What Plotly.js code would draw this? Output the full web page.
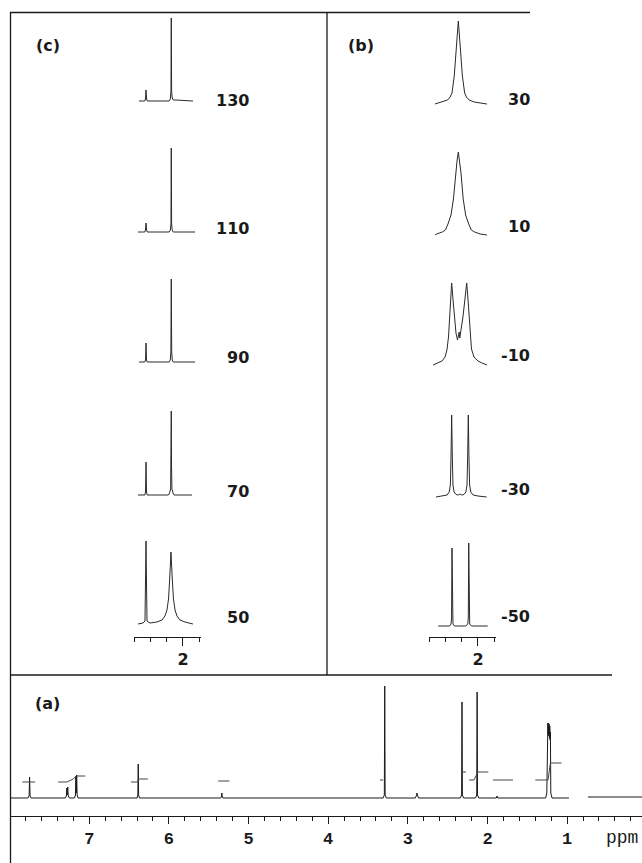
<!DOCTYPE html>
<html>
<head>
<meta charset="utf-8">
<script src="https://cdn.plot.ly/plotly-3.0.1.min.js"></script>
<style>html,body{margin:0;padding:0;background:#fff;}#plot{width:642px;height:863px;}</style>
</head>
<body>
<div id="plot"></div>
<script>
// ---------------- DATA ----------------
// (a) room-temperature 1H spectrum: chemical shift (ppm) and intensity
const a_ppm = [8.0, 7.77, 7.755, 7.749, 7.743, 7.73, 7.30, 7.287, 7.282, 7.276, 7.270, 7.264, 7.25, 7.185, 7.173, 7.168, 7.163, 7.158, 7.152, 7.14, 6.40, 6.39, 6.385, 6.38, 6.37, 5.35, 5.34, 5.335, 5.33, 5.32, 3.31, 3.295, 3.29, 3.285, 3.27, 2.905, 2.89, 2.885, 2.88, 2.865, 2.34, 2.325, 2.32, 2.315, 2.30, 2.15, 2.135, 2.13, 2.125, 2.11, 1.89, 1.88, 1.87, 1.27, 1.255, 1.250, 1.246, 1.242, 1.238, 1.234, 1.230, 1.226, 1.222, 1.218, 1.214, 1.210, 1.205, 1.19, 0.977, null, 0.739, 0.06];
const a_int = [0, 0, 2, 21, 2, 0, 0, 2, 10, 3, 11, 2, 0, 0, 3, 22, 5, 23, 3, 0, 0, 3, 34, 3, 0, 0, 1, 5, 1, 0, 0, 3, 112, 3, 0, 0, 3, 5, 3, 0, 0, 3, 96, 3, 0, 0, 3, 106, 3, 0, 0, 2, 0, 0, 5, 74, 62, 75, 64, 75, 62, 74, 60, 72, 58, 66, 5, 0, 0, null, 1, 1];
// (a) integral trace segments
const aInt_ppm = [7.84, 7.68, null, 7.39, 7.28, 7.20, 7.165, 7.05, null, 6.477, 6.39, 6.385, 6.264, null, 5.38, 5.24, null, 3.35, 3.31, null, 2.33, 2.27, null, 2.23, 2.17, 2.12, 1.99, null, 1.93, 1.68, null, 1.40, 1.24, 1.21, 1.07];
const aInt_val = [16, 16, null, 16, 16, 19, 22, 22, null, 16, 16, 19, 19, null, 17, 17, null, 18, 18, null, 26, 26, null, 18, 18, 26, 26, null, 18, 18, null, 18, 18, 35, 35];

// (c) high-temperature series, temperatures (°C)
const cTemps = ['130', '110', '90', '70', '50'];
const c130_ppm = [2.542, 2.47, 2.462, 2.455, 2.448, 2.44, 2.17, 2.155, 2.148, 2.144, 2.140, 2.133, 2.12, 2.09, 1.877];
const c130_int = [0, 0, 2, 11, 2, 0, 0, 2, 10, 83, 10, 3, 1, 1, 0];
const c110_ppm = [2.554, 2.47, 2.462, 2.455, 2.448, 2.44, 2.17, 2.155, 2.148, 2.144, 2.140, 2.133, 2.12, 1.852];
const c110_int = [0, 0, 2, 9, 2, 0, 0, 2, 8, 84, 8, 2, 0, 0];
const c90_ppm = [2.542, 2.47, 2.461, 2.455, 2.449, 2.44, 2.17, 2.156, 2.149, 2.144, 2.139, 2.132, 2.12, 1.852];
const c90_int = [0, 0, 2, 19, 2, 0, 0, 2, 10, 83, 10, 2, 0, 0];
const c70_ppm = [2.554, 2.47, 2.461, 2.455, 2.449, 2.44, 2.18, 2.165, 2.152, 2.147, 2.144, 2.141, 2.136, 2.123, 2.11, 1.889];
const c70_int = [0, 0, 3, 33, 3, 0, 0, 2, 6, 30, 84, 30, 6, 2, 0, 0];
const c50_ppm = [2.554, 2.492, 2.468, 2.460, 2.455, 2.449, 2.443, 2.406, 2.320, 2.258, 2.222, 2.197, 2.178, 2.164, 2.148, 2.132, 2.117, 2.098, 2.074, 2.037, 1.975, 1.877];
const c50_int = [0, 1, 3, 40, 83, 40, 3, 1, 2, 4, 8, 14, 25, 45, 72, 45, 25, 14, 8, 4, 2, 0];

// (b) low-temperature series, temperatures (°C)
const bTemps = ['30', '10', '-10', '-30', '-50'];
const b30_ppm = [2.53, 2.437, 2.375, 2.342, 2.32, 2.292, 2.279, 2.267, 2.254, 2.242, 2.230, 2.217, 2.205, 2.192, 2.164, 2.142, 2.109, 2.047, 1.89];
const b30_int = [0, 2, 4, 7, 11, 28, 44, 55, 70, 83, 70, 55, 44, 28, 11, 7, 4, 2, 0];
const b10_ppm = [2.53, 2.51, 2.44, 2.40, 2.365, 2.332, 2.302, 2.275, 2.257, 2.242, 2.227, 2.209, 2.182, 2.152, 2.119, 2.082, 2.042, 1.972, 1.89];
const b10_int = [0, 1, 3, 5, 12, 20, 36, 62, 75, 83, 75, 62, 36, 20, 12, 5, 3, 1, 0];
const bm10_ppm = [2.554, 2.492, 2.443, 2.406, 2.382, 2.363, 2.351, 2.338, 2.324, 2.308, 2.289, 2.271, 2.252, 2.240, 2.231, 2.224, 2.215, 2.203, 2.185, 2.166, 2.153, 2.139, 2.125, 2.111, 2.098, 2.080, 2.049, 2.000, 1.951, 1.889];
const bm10_int = [0, 2, 4, 8, 15, 28, 45, 65, 82, 66, 45, 32, 25, 30, 33, 27, 31, 36, 48, 62, 75, 82, 68, 48, 30, 16, 8, 4, 2, 0];
const bm30_ppm = [2.517, 2.43, 2.38, 2.354, 2.340, 2.332, 2.324, 2.316, 2.308, 2.294, 2.27, 2.24, 2.222, 2.20, 2.173, 2.149, 2.135, 2.127, 2.119, 2.111, 2.103, 2.089, 2.06, 2.00, 1.893];
const bm30_int = [0, 1, 2, 5, 12, 40, 82, 40, 12, 5, 2.5, 2, 3, 2, 2.5, 5, 12, 40, 82, 40, 12, 5, 2, 1, 0];
const bm50_ppm = [2.49, 2.35, 2.332, 2.325, 2.320, 2.315, 2.308, 2.29, 2.15, 2.126, 2.119, 2.114, 2.109, 2.102, 2.08, 1.88];
const bm50_int = [0, 0, 2, 8, 78, 8, 2, 0, 0, 2, 8, 83, 8, 2, 0, 0];

const cSeries = [[c130_ppm, c130_int], [c110_ppm, c110_int], [c90_ppm, c90_int], [c70_ppm, c70_int], [c50_ppm, c50_int]];
const bSeries = [[b30_ppm, b30_int], [b10_ppm, b10_int], [bm10_ppm, bm10_int], [bm30_ppm, bm30_int], [bm50_ppm, bm50_int]];

// ---------------- LAYOUT ----------------
const W = 642, H = 863;
const px = p => p / W;
const py = p => 1 - p / H;

const cBase = [101, 232, 362, 495, 624];      // baseline pixel rows, panel (c)
const bBase = [104, 235, 365, 497, 626];      // baseline pixel rows, panel (b)
const cLabelY = [100.5, 228, 357, 491, 617.5];
const bLabelY = [99, 226.5, 355, 489, 616.5];
const ink = '#1a1a1a';

const labFont = {family: 'DejaVu Sans', size: 16, color: ink, weight: 'bold'};

const traces = [];
traces.push({x: a_ppm, y: a_int, xaxis: 'x', yaxis: 'y', type: 'scatter', mode: 'lines',
  line: {color: ink, width: 1}, connectgaps: false, hoverinfo: 'skip'});
traces.push({x: aInt_ppm, y: aInt_val, xaxis: 'x', yaxis: 'y', type: 'scatter', mode: 'lines',
  line: {color: '#444', width: 1}, connectgaps: false, hoverinfo: 'skip'});

const layout = {
  width: W, height: H, margin: {l: 0, r: 0, t: 0, b: 0},
  paper_bgcolor: '#fff', plot_bgcolor: 'rgba(0,0,0,0)', showlegend: false,
  xaxis: {domain: [px(10), 1], range: [7.995, 0.06], anchor: 'y', showline: true, linecolor: ink, linewidth: 1,
    ticks: 'outside', ticklen: 7, tickcolor: ink, tickwidth: 1, tickmode: 'linear', tick0: 0, dtick: 1,
    minor: {ticks: 'outside', ticklen: 4, tickcolor: ink, tickwidth: 1, tick0: 0, dtick: 0.2},
    showgrid: false, zeroline: false, fixedrange: true,
    tickfont: {family: 'Liberation Mono', size: 17, color: ink, weight: 'bold'}},
  yaxis: {domain: [py(816), py(680)], range: [-18, 118], visible: false, fixedrange: true},
  shapes: [], annotations: []
};

function smallX(left) {
  return {domain: [px(left), px(left + 67)], range: [2.6, 1.775], anchor: 'free', position: py(637),
    showline: true, linecolor: ink, linewidth: 1, ticks: 'outside', ticklen: 8, tickcolor: ink, tickwidth: 1,
    tickmode: 'linear', tick0: 0, dtick: 1,
    minor: {ticks: 'outside', ticklen: 4, tickcolor: ink, tickwidth: 1, tick0: 0, dtick: 0.2},
    showgrid: false, zeroline: false, fixedrange: true,
    tickfont: {family: 'DejaVu Sans', size: 16, color: ink, weight: 'bold'}};
}
layout.xaxis2 = smallX(134.25);
layout.xaxis3 = smallX(429.25);

let yi = 2;
function addPanel(series, bases, xname, temps, labelX, labelYs) {
  series.forEach((s, k) => {
    const yname = 'y' + yi;
    layout['yaxis' + yi] = {domain: [py(bases[k] + 4), py(bases[k] - 92)], range: [-4, 92], visible: false,
      anchor: xname, fixedrange: true};
    traces.push({x: s[0], y: s[1], xaxis: xname, yaxis: yname, type: 'scatter', mode: 'lines',
      line: {color: '#2a2a2a', width: 1}, hoverinfo: 'skip'});
    layout.annotations.push({text: temps[k], xref: 'paper', yref: 'paper', x: px(labelX), y: py(labelYs[k]),
      xanchor: 'right', yanchor: 'middle', showarrow: false, font: labFont});
    yi++;
  });
}
addPanel(cSeries, cBase, 'x2', cTemps, 251, cLabelY);
addPanel(bSeries, bBase, 'x3', bTemps, 532, bLabelY);

// panel letters and unit
[['(c)', 48, 45], ['(b)', 361, 45], ['(a)', 48, 703]].forEach(t => {
  layout.annotations.push({text: t[0], xref: 'paper', yref: 'paper', x: px(t[1]), y: py(t[2]),
    xanchor: 'center', yanchor: 'middle', showarrow: false, font: labFont});
});
layout.annotations.push({text: 'ppm', xref: 'paper', yref: 'paper', x: px(622), y: py(838),
  xanchor: 'center', yanchor: 'middle', showarrow: false,
  font: {family: 'Liberation Mono', size: 18, color: ink}});

// frame lines
const frame = {type: 'line', xref: 'paper', yref: 'paper', line: {color: ink, width: 1.3}};
layout.shapes.push(Object.assign({}, frame, {x0: px(10), x1: px(530), y0: py(12.5), y1: py(12.5)}));
layout.shapes.push(Object.assign({}, frame, {x0: px(10.5), x1: px(10.5), y0: py(12), y1: 0}));
layout.shapes.push(Object.assign({}, frame, {x0: px(327), x1: px(327), y0: py(12), y1: py(675)}));
layout.shapes.push(Object.assign({}, frame, {x0: px(10), x1: px(612), y0: py(675), y1: py(675)}));

Plotly.newPlot('plot', traces, layout, {staticPlot: true, displayModeBar: false});
</script>
</body>
</html>
